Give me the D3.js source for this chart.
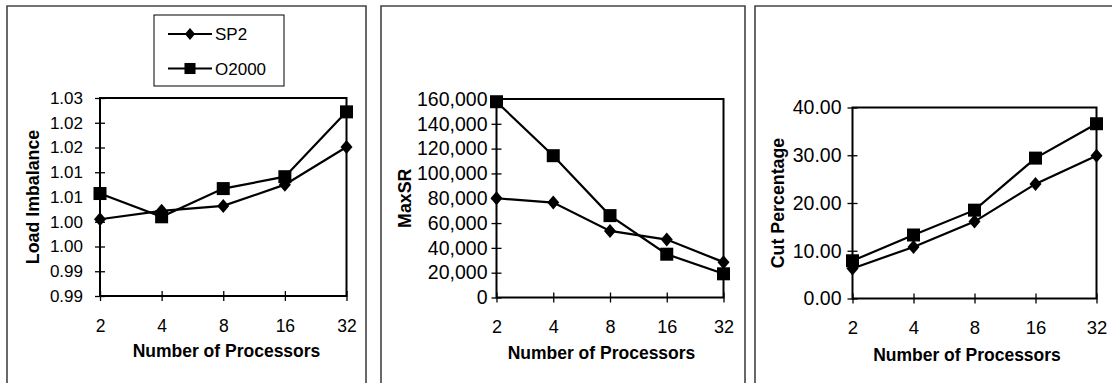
<!DOCTYPE html>
<html>
<head>
<meta charset="utf-8">
<script src="https://cdn.jsdelivr.net/npm/d3@7"></script>
<style>
  html, body { margin: 0; padding: 0; background: #fff; }
  svg { display: block; }
  text { font-family: Arial, "Liberation Sans", sans-serif; fill: #000; }
</style>
</head>
<body>
<svg id="chart" width="1112" height="383"></svg>
<script>
// Processor counts shared by all three panels
const processors = ["2", "4", "8", "16", "32"];
const seriesNames = ["SP2", "O2000"];

// Load imbalance
const loadSP2 = [1.0055, 1.0072, 1.0082, 1.0125, 1.0201];
const loadO2000 = [1.0107, 1.0060, 1.0117, 1.0141, 1.0272];
const loadTicks = [0.99, 0.995, 1.0, 1.005, 1.01, 1.015, 1.02, 1.025, 1.03];
const loadTickLabels = ["0.99", "0.99", "1.00", "1.00", "1.01", "1.01", "1.02", "1.02", "1.03"];

// Maximum send/receive volume
const maxSP2 = [80000, 76500, 53700, 46700, 28500];
const maxO2000 = [157800, 114300, 66000, 34900, 19100];
const maxTicks = [0, 20000, 40000, 60000, 80000, 100000, 120000, 140000, 160000];
const maxTickLabels = ["0", "20,000", "40,000", "60,000", "80,000", "100,000", "120,000", "140,000", "160,000"];

// Edge cut percentage
const cutSP2 = [6.3, 10.8, 16.1, 24.0, 29.9];
const cutO2000 = [7.9, 13.3, 18.5, 29.4, 36.6];
const cutTicks = [0, 10, 20, 30, 40];
const cutTickLabels = ["0.00", "10.00", "20.00", "30.00", "40.00"];

const xTitle = "Number of Processors";

const svg = d3.select("#chart");

const panels = [
  {
    frame: [7, 6, 366, 400],
    plot: { left: 100, right: 346.5, top: 98, bottom: 296 },
    domain: [0.99, 1.03], ticks: loadTicks, labels: loadTickLabels,
    series: [loadSP2, loadO2000],
    yTitle: "Load Imbalance", yTitleX: 38.5,
    labelGap: 12, yFont: 17, xFont: 17.5, xTitleX: 226.5, xTitleY: 357,
    legend: true
  },
  {
    frame: [381, 6, 745, 400],
    plot: { left: 496.5, right: 723.5, top: 99, bottom: 297.5 },
    domain: [0, 160000], ticks: maxTicks, labels: maxTickLabels,
    series: [maxSP2, maxO2000],
    yTitle: "MaxSR", yTitleX: 411,
    labelGap: 4, yFont: 19.5, xFont: 18, xTitleX: 601.5, xTitleY: 359,
    legend: false
  },
  {
    frame: [755, 6, 1130, 400],
    plot: { left: 852.5, right: 1096.5, top: 107.5, bottom: 298.5 },
    domain: [0, 40], ticks: cutTicks, labels: cutTickLabels,
    series: [cutSP2, cutO2000],
    yTitle: "Cut Percentage", yTitleX: 784,
    labelGap: 6, yFont: 19.5, xFont: 18.5, xTitleX: 967, xTitleY: 361,
    legend: false
  }
];

// Marker shapes: diamond for SP2, square for O2000
function marker(sel, kind) {
  if (kind === 0) {
    sel.append("path").attr("d", "M0,-7L6,0L0,7L-6,0Z").attr("fill", "#000");
  } else {
    sel.append("rect").attr("x", -6.5).attr("y", -6.5).attr("width", 13).attr("height", 13).attr("fill", "#000");
  }
}

panels.forEach(p => {
  const g = svg.append("g");

  // Chart area border
  g.append("path")
    .attr("d", `M${p.frame[0]},${p.frame[3]}V${p.frame[1]}H${p.frame[2]}V${p.frame[3]}`)
    .attr("fill", "none").attr("stroke", "#444").attr("stroke-width", 1.6);

  const x = d3.scalePoint().domain(processors).range([p.plot.left, p.plot.right]).padding(0);
  const y = d3.scaleLinear().domain(p.domain).range([p.plot.bottom, p.plot.top]);

  // Plot area border
  g.append("rect")
    .attr("x", p.plot.left).attr("y", p.plot.top)
    .attr("width", p.plot.right - p.plot.left).attr("height", p.plot.bottom - p.plot.top)
    .attr("fill", "none").attr("stroke", "#000").attr("stroke-width", 2);

  // Y axis with ticks crossing the axis line
  const yAxis = d3.axisLeft(y).tickValues(p.ticks)
    .tickFormat((d, i) => p.labels[i]).tickSize(5).tickPadding(p.labelGap);
  const ya = g.append("g").attr("transform", `translate(${p.plot.left},0)`).call(yAxis);
  ya.select(".domain").remove();
  ya.selectAll(".tick line").attr("x1", -5).attr("x2", 5).attr("stroke", "#000").attr("stroke-width", 1.3);
  ya.selectAll(".tick text").attr("font-size", p.yFont).attr("font-family", "Arial, 'Liberation Sans', sans-serif");

  // X axis
  const xAxis = d3.axisBottom(x).tickSize(5).tickPadding(0);
  const xa = g.append("g").attr("transform", `translate(0,${p.plot.bottom})`).call(xAxis);
  xa.select(".domain").remove();
  xa.selectAll(".tick line").attr("y1", -5).attr("y2", 5).attr("stroke", "#000").attr("stroke-width", 1.3);
  xa.selectAll(".tick text").attr("font-size", p.xFont).attr("dy", null).attr("y", 35.5)
    .attr("font-family", "Arial, 'Liberation Sans', sans-serif");

  // Axis titles
  g.append("text")
    .attr("transform", `translate(${p.yTitleX},${(p.plot.top + p.plot.bottom) / 2}) rotate(-90)`)
    .attr("text-anchor", "middle").attr("font-size", 17.8).attr("font-weight", "bold")
    .text(p.yTitle);
  g.append("text")
    .attr("x", p.xTitleX).attr("y", p.xTitleY)
    .attr("text-anchor", "middle").attr("font-size", 17.5).attr("font-weight", "bold")
    .text(xTitle);

  // Series lines and markers
  const line = d3.line().x((d, i) => x(processors[i])).y(d => y(d));
  p.series.forEach((vals, k) => {
    g.append("path").datum(vals).attr("d", line)
      .attr("fill", "none").attr("stroke", "#000").attr("stroke-width", 2.2);
  });
  p.series.forEach((vals, k) => {
    vals.forEach((v, i) => {
      const m = g.append("g").attr("transform", `translate(${x(processors[i])},${y(v)})`);
      marker(m, k);
    });
  });

  // Legend
  if (p.legend) {
    const lg = g.append("g");
    lg.append("rect").attr("x", 154).attr("y", 15).attr("width", 130).attr("height", 71)
      .attr("fill", "#fff").attr("stroke", "#000").attr("stroke-width", 1);
    seriesNames.forEach((name, k) => {
      const cy = k === 0 ? 34 : 68.5;
      lg.append("line").attr("x1", 168).attr("x2", 212).attr("y1", cy).attr("y2", cy)
        .attr("stroke", "#000").attr("stroke-width", 2);
      const m = lg.append("g").attr("transform", `translate(190,${cy}) scale(0.85)`);
      marker(m, k);
      lg.append("text").attr("x", 215).attr("y", cy).attr("dy", "0.36em")
        .attr("font-size", 17).text(name);
    });
  }
});
</script>
</body>
</html>
